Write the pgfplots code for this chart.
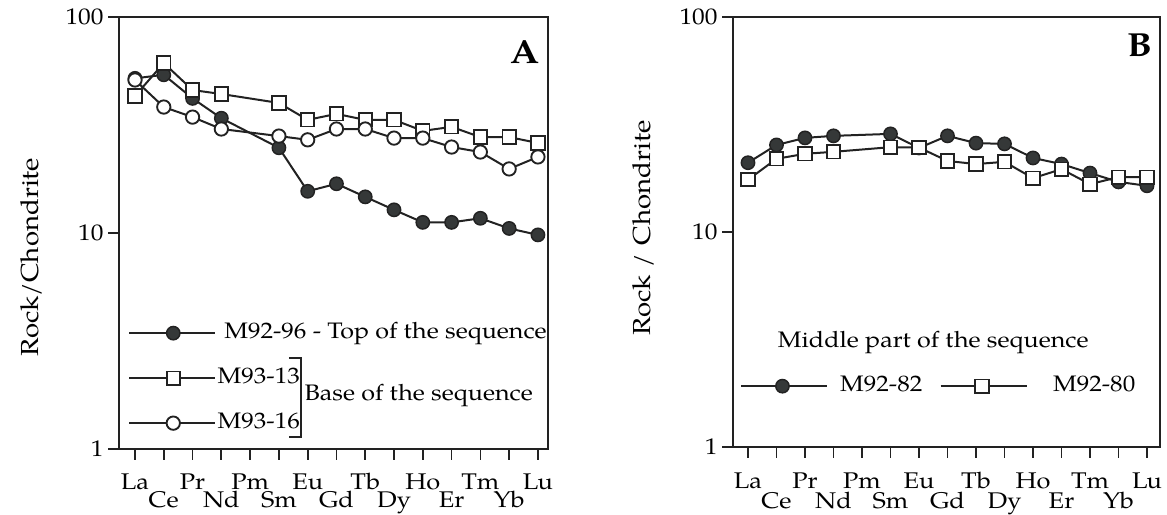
\documentclass[border=0pt]{standalone}
\usepackage{fontspec}
\setmainfont{texgyrepagella}[Extension=.otf, UprightFont=*-regular, BoldFont=*-bold, ItalicFont=*-italic, BoldItalicFont=*-bolditalic, FakeStretch=1.12]
\usepackage{pgfplots}
\usepackage{pgfplotstable}
\pgfplotsset{compat=1.18}
\definecolor{ink}{HTML}{222222}
\definecolor{markfill}{HTML}{353838}

\pgfplotstableread{
x y
0 52
1 54
2 42
3 34
5 24.8
6 15.6
7 16.9
8 14.7
9 12.8
10 11.2
11 11.2
12 11.7
13 10.5
14 9.8
}\tblAfill
\pgfplotstableread{
x y
0 43.1
1 61.2
2 45.9
3 44.0
5 40.0
6 33.4
7 35.6
8 33.4
9 33.4
10 29.7
11 31.0
12 27.8
13 27.8
14 26.1
}\tblAsq
\pgfplotstableread{
x y
0 51.1
1 38.3
2 34.4
3 30.3
5 28.1
6 27.0
7 30.3
8 30.3
9 27.5
10 27.5
11 25.0
12 23.7
13 19.8
14 22.5
}\tblAopen
\pgfplotstableread{
x y
0 21.0
1 25.4
2 27.4
3 28.0
5 28.6
6 24.6
7 28.0
8 25.9
9 25.7
10 22.1
11 20.7
12 18.8
13 17.1
14 16.4
}\tblBfill
\pgfplotstableread{
x y
0 17.5
1 21.9
2 23.1
3 23.6
5 24.8
6 24.7
7 21.4
8 20.7
9 21.2
10 17.8
11 19.6
12 16.7
13 18.0
14 18.0
}\tblBsq

\newcommand\dnA[1]{\raisebox{-13.5pt}[0pt][0pt]{#1}}
\newcommand\dnB[1]{\raisebox{-15.5pt}[0pt][0pt]{#1}}

\begin{document}
\begin{tikzpicture}
\useasboundingbox (0,0) rectangle (875.25pt,385.5pt);

% Panel A
\begin{semilogyaxis}[
  scale only axis,
  at={(89.25pt,48.75pt)}, anchor=south west,
  width=321.75pt, height=324pt,
  xmin=-0.556, xmax=14.35,
  ymin=1, ymax=100,
  ytick={1,10,100}, yticklabels={1,10,100},
  minor y tick style={draw=none},
  xtick={0,...,14},
  xtick pos=bottom, ytick pos=left,
  axis line style={ink, line width=1.9pt},
  tick style={ink, line width=1.3pt},
  tick align=outside, major tick length=8pt,
  tick label style={font=\fontsize{17}{19}\selectfont},
  xticklabel style={anchor=north, text height=10pt, text depth=3pt, yshift=-9pt},
  xticklabels={La,\dnA{Ce},Pr,\dnA{Nd},Pm,\dnA{Sm},Eu,\dnA{Gd},Tb,\dnA{Dy},Ho,\dnA{Er},Tm,\dnA{Yb},Lu},
  ylabel={Rock/Chondrite},
  ylabel style={font=\fontsize{18.5}{20}\selectfont, at={(axis description cs:-0.205,0.444)}, anchor=center},
  legend cell align=left,
  legend image code/.code={\draw[mark repeat=2, mark phase=2, #1, line width=1.5pt] plot coordinates {(0pt,0pt) (33pt,0pt) (64.5pt,0pt)};},
  legend style={at={(axis description cs:0.021,0.164)}, anchor=west, draw=none, fill=none,
    inner sep=0pt, row sep=15.75pt, font=\fontsize{16.8}{18}\selectfont,
    nodes={inner sep=1pt, text height=12pt, text depth=4pt},
    /tikz/every odd column/.append style={column sep=0pt}},
]
\addplot[ink, line width=1.5pt, mark=*, mark size=5pt, mark options={solid, fill=markfill, draw=ink, line width=1.1pt}] table[x=x,y=y] {\tblAfill};
\addlegendentry{\hspace{5pt}M92-96 - Top of the sequence}
\addplot[ink, line width=1.5pt, mark=square*, mark size=5pt, mark options={solid, fill=white, draw=ink, line width=1.4pt}] table[x=x,y=y] {\tblAsq};
\addlegendentry{M93-13}
\addplot[ink, line width=1.5pt, mark=*, mark size=5pt, mark options={solid, fill=white, draw=ink, line width=1.4pt}] table[x=x,y=y] {\tblAopen};
\addlegendentry{M93-16}
\draw[ink, line width=1.4pt] (axis description cs:0.396,0.211) -- (axis description cs:0.424,0.211) -- (axis description cs:0.424,0.028) -- (axis description cs:0.396,0.028);
\node[anchor=west, font=\fontsize{16.8}{18}\selectfont, inner sep=0pt] at (axis description cs:0.432,0.123) {Base of the sequence};
\node[font=\fontsize{25}{27}\selectfont\bfseries] at (axis description cs:0.946,0.919) {A};
\end{semilogyaxis}

% Panel B
\begin{semilogyaxis}[
  scale only axis,
  at={(549.75pt,50.25pt)}, anchor=south west,
  width=320.25pt, height=322.5pt,
  xmin=-0.526, xmax=14.456,
  ymin=1, ymax=100,
  ytick={1,10,100}, yticklabels={1,10,100},
  minor y tick style={draw=none},
  xtick={0,...,14},
  xtick pos=bottom, ytick pos=left,
  axis line style={ink, line width=1.9pt},
  tick style={ink, line width=1.3pt},
  tick align=outside, major tick length=8pt,
  tick label style={font=\fontsize{17}{19}\selectfont},
  xticklabel style={anchor=north, text height=10pt, text depth=3pt, yshift=-9.5pt},
  xticklabels={La,\dnB{Ce},Pr,\dnB{Nd},Pm,\dnB{Sm},Eu,\dnB{Gd},Tb,\dnB{Dy},Ho,\dnB{Er},Tm,\dnB{Yb},Lu},
  ylabel={Rock\,\,/\,\,Chondrite},
  ylabel style={font=\fontsize{18.5}{20}\selectfont, at={(axis description cs:-0.211,0.509)}, anchor=center},
  legend cell align=left,
  legend columns=2,
  legend image code/.code={\draw[mark repeat=2, mark phase=2, #1, line width=1.5pt] plot coordinates {(0pt,0pt) (31pt,0pt) (64.5pt,0pt)};},
  legend style={at={(axis description cs:0.016,0.1415)}, anchor=west, draw=none, fill=none,
    inner sep=0pt, font=\fontsize{16.8}{18}\selectfont,
    nodes={inner sep=1pt, text height=12pt, text depth=4pt},
    /tikz/every odd column/.append style={column sep=8pt},
    /tikz/every even column/.append style={column sep=12pt}},
]
\addplot[ink, line width=1.5pt, mark=*, mark size=5pt, mark options={solid, fill=markfill, draw=ink, line width=1.1pt}] table[x=x,y=y] {\tblBfill};
\addlegendentry{M92-82}
\addplot[ink, line width=1.5pt, mark=square*, mark size=5pt, mark options={solid, fill=white, draw=ink, line width=1.4pt}] table[x=x,y=y] {\tblBsq};
\addlegendentry{\hspace{10pt}M92-80}
\node[font=\fontsize{16.8}{18}\selectfont] at (axis description cs:0.469,0.244) {Middle part of the sequence};
\node[font=\fontsize{25}{27}\selectfont\bfseries] at (axis description cs:0.953,0.935) {B};
\end{semilogyaxis}
\end{tikzpicture}
\end{document}
